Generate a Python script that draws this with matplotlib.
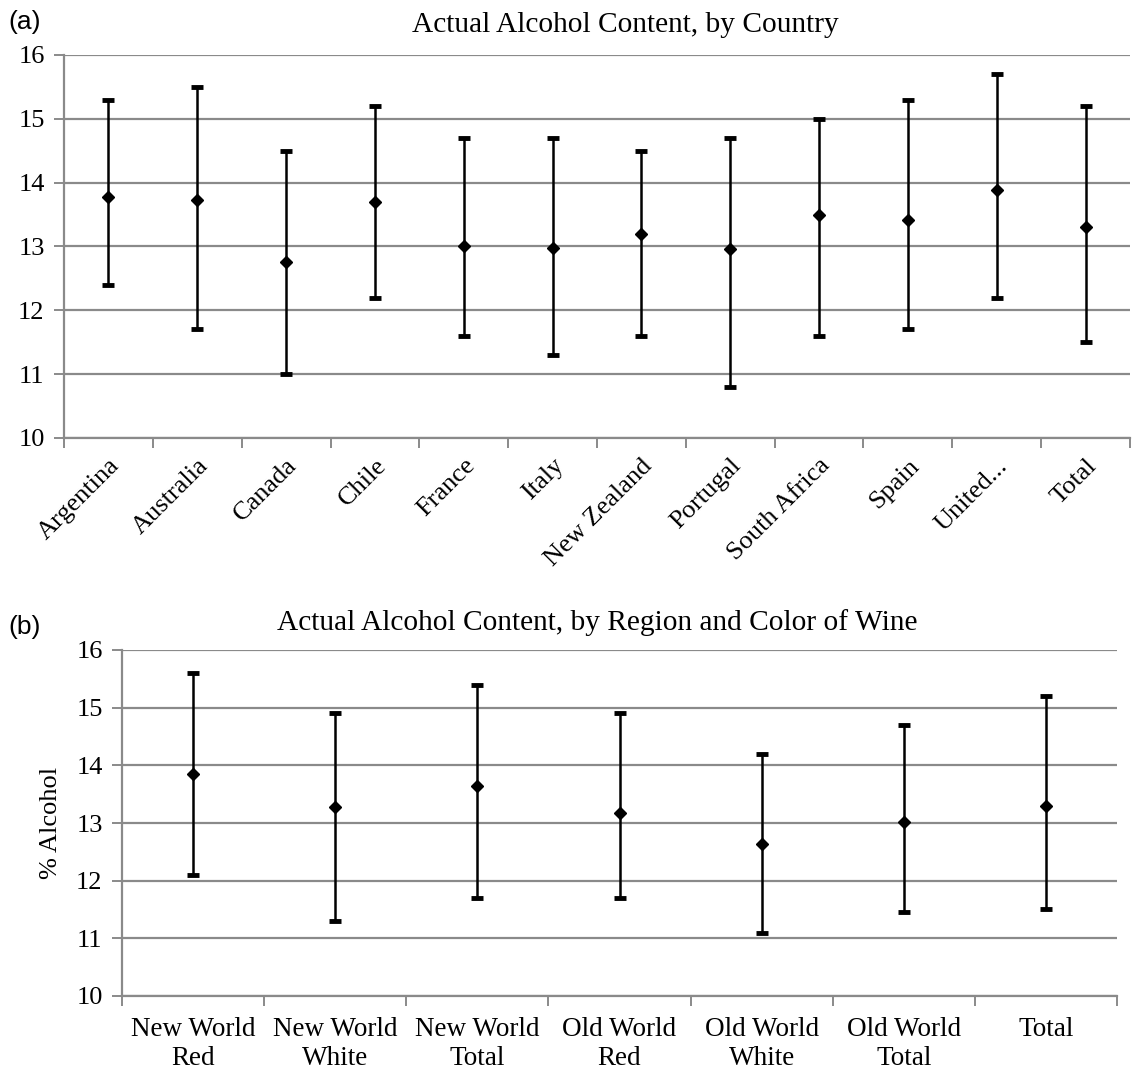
import numpy as np
import matplotlib
matplotlib.use("Agg")
import matplotlib.pyplot as plt

# ---- data ----
countries = ["Argentina", "Australia", "Canada", "Chile", "France", "Italy",
             "New Zealand", "Portugal", "South Africa", "Spain", "United...", "Total"]
country_mean = [13.78, 13.73, 12.75, 13.70, 13.00, 12.97, 13.20, 12.96, 13.50, 13.42, 13.88, 13.30]
country_max = [15.3, 15.5, 14.5, 15.2, 14.7, 14.7, 14.5, 14.7, 15.0, 15.3, 15.7, 15.2]
country_min = [12.4, 11.7, 11.0, 12.2, 11.6, 11.3, 11.6, 10.8, 11.6, 11.7, 12.2, 11.5]

regions = ["New World\nRed", "New World\nWhite", "New World\nTotal", "Old World\nRed",
           "Old World\nWhite", "Old World\nTotal", "Total"]
region_mean = [13.85, 13.27, 13.64, 13.17, 12.63, 13.01, 13.30]
region_max = [15.6, 14.9, 15.4, 14.9, 14.2, 14.7, 15.2]
region_min = [12.1, 11.3, 11.7, 11.7, 11.1, 11.45, 11.5]

yticks = [10, 11, 12, 13, 14, 15, 16]

SERIF = ["Liberation Serif", "DejaVu Serif"]
SANS = ["Liberation Sans", "DejaVu Sans"]
GRID = "#8a8a8a"

W, H = 1133, 1072
fig = plt.figure(figsize=(W / 100, H / 100), dpi=100)


def px_axes(left, top, right, bottom):
    return fig.add_axes([left / W, 1 - bottom / H, (right - left) / W, (bottom - top) / H])


def style_panel(ax, labels, means, mins, maxs, rotate):
    n = len(labels)
    x = np.arange(n)
    means = np.array(means)
    lo = means - np.array(mins)
    hi = np.array(maxs) - means
    ax.errorbar(x, means, yerr=[lo, hi], fmt="D", color="black", ms=6,
                elinewidth=1.8, capsize=4, capthick=3.5, zorder=3)
    ax.set_xlim(-0.5, n - 0.5)
    ax.set_ylim(10, 16)
    ax.set_yticks(yticks)
    ax.set_yticklabels([str(t) for t in yticks], fontfamily=SERIF, fontsize=19)
    ax.yaxis.grid(True, color=GRID, linewidth=1.6)
    ax.set_axisbelow(True)
    for s in ["top", "right"]:
        ax.spines[s].set_visible(False)
    for s in ["left", "bottom"]:
        ax.spines[s].set_color(GRID)
        ax.spines[s].set_linewidth(1.6)
    ax.tick_params(axis="y", color=GRID, length=7, width=1.4, pad=7)
    ax.set_xticks(np.arange(-0.5, n, 1.0), minor=True)
    ax.tick_params(axis="x", which="minor", color=GRID, length=7, width=1.4)
    ax.set_xticks(x)
    if rotate:
        ax.tick_params(axis="x", which="major", length=0, pad=12)
        ax.set_xticklabels(labels, fontfamily=SERIF, fontsize=19, rotation=45,
                           ha="right", rotation_mode="anchor")
    else:
        ax.tick_params(axis="x", which="major", length=0, pad=15)
        ax.set_xticklabels(labels, fontfamily=SERIF, fontsize=19.5, linespacing=1.22)


ax1 = px_axes(64, 55, 1130, 438)
style_panel(ax1, countries, country_mean, country_min, country_max, True)
fig.text(625.5 / W, 1 - 32 / H, "Actual Alcohol Content, by Country", fontfamily=SERIF,
         fontsize=21.2, ha="center", va="baseline")
fig.text(8 / W, 1 - 22 / H, "(a)", fontfamily=SANS, fontsize=19, va="center", ha="left")

ax2 = px_axes(122, 650, 1117, 996)
style_panel(ax2, regions, region_mean, region_min, region_max, False)
fig.text(597 / W, 1 - 630 / H, "Actual Alcohol Content, by Region and Color of Wine",
         fontfamily=SERIF, fontsize=21.2, ha="center", va="baseline")
ax2.set_ylabel("% Alcohol", fontfamily=SERIF, fontsize=19, labelpad=10)
fig.text(8 / W, 1 - 627 / H, "(b)", fontfamily=SANS, fontsize=19, va="center", ha="left")

fig.savefig("out.png", dpi=100)
